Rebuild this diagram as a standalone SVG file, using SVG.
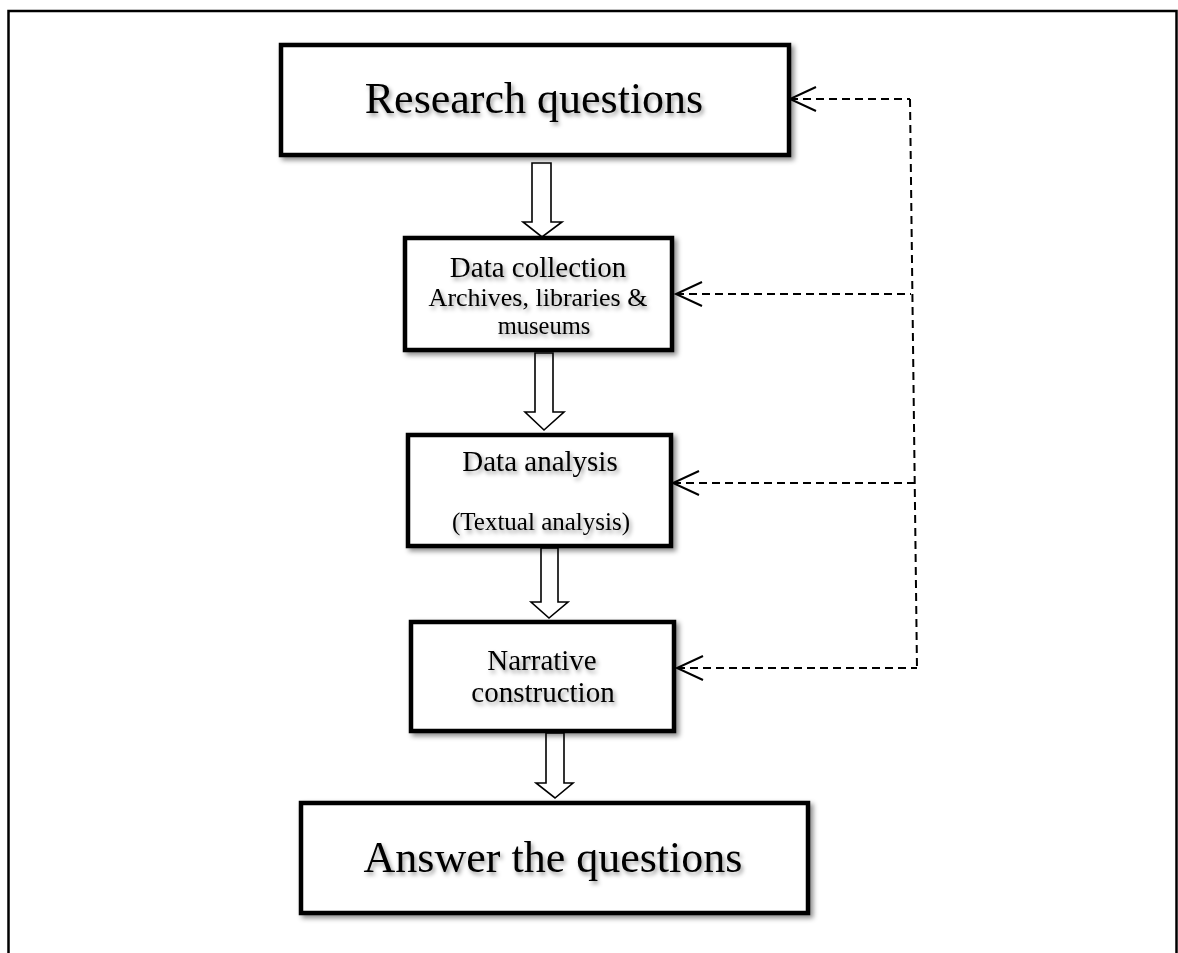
<svg xmlns="http://www.w3.org/2000/svg" width="1178" height="953" viewBox="0 0 1178 953">
<defs>
<style>
.box{fill:#fff;stroke:#000;stroke-width:4.5;filter:url(#sh)}
.t{font-family:"Liberation Serif","Times New Roman",serif;fill:#000;text-anchor:middle;filter:url(#tsh)}
.big{font-size:44px}
.sm{font-size:29px}
.blk{fill:#fff;stroke:#000;stroke-width:1.6;stroke-linejoin:miter}
.dash{fill:none;stroke:#000;stroke-width:2;stroke-dasharray:8 5}
</style>
<filter id="sh" x="-10%" y="-10%" width="125%" height="130%">
<feDropShadow dx="3" dy="3" stdDeviation="2.5" flood-color="#000" flood-opacity="0.45"/>
</filter>
<filter id="tsh" x="-10%" y="-20%" width="125%" height="150%">
<feDropShadow dx="2" dy="3" stdDeviation="2" flood-color="#000" flood-opacity="0.4"/>
</filter>
<marker id="open" markerUnits="userSpaceOnUse" viewBox="-2 -14 30 28" refX="0" refY="0" markerWidth="30" markerHeight="28" orient="auto" overflow="visible">
<path d="M26,-12 L0,0 L26,12" fill="none" stroke="#000" stroke-width="2" stroke-dasharray="none"/>
</marker>
</defs>
<rect width="1178" height="953" fill="#fff"/>
<path d="M8.5,953 V11 H1176.5 V953" fill="none" stroke="#000" stroke-width="2.5"/>

<g id="connectors">
<polygon class="blk" points="532,163 551,163 551,222 562,222 542,237 523,222 532,222"/>
<polygon class="blk" points="535,353 553,353 553,412 564,412 544,430 525,412 535,412"/>
<polygon class="blk" points="541,548 558,548 558,602 568,602 549,618 531,602 541,602"/>
<polygon class="blk" points="546,733 564,733 564,783 573,783 555,798 536,783 546,783"/>
<path class="dash" d="M910,99 L917,669"/>
<path class="dash" d="M790,99 H910" marker-start="url(#open)"/>
<path class="dash" d="M676,294 H911" marker-start="url(#open)"/>
<path class="dash" d="M673,483 H914" marker-start="url(#open)"/>
<path class="dash" d="M677,668 H917" marker-start="url(#open)"/>
</g>

<g id="research">
<rect class="box" x="281" y="45" width="508" height="110"/>
<text class="t big" x="534" y="113">Research questions</text>
</g>
<g id="collection">
<rect class="box" x="405" y="238" width="267" height="112"/>
<text class="t sm" x="538" y="277">Data collection</text>
<text class="t sm" x="538" y="306" style="font-size:26px">Archives, libraries &amp;</text>
<text class="t sm" x="544" y="334" style="font-size:24.5px">museums</text>
</g>
<g id="analysis">
<rect class="box" x="408" y="435" width="263" height="111"/>
<text class="t sm" x="540" y="471">Data analysis</text>
<text class="t sm" x="541" y="530" style="font-size:25px">(Textual analysis)</text>
</g>
<g id="narrative">
<rect class="box" x="411" y="622" width="263" height="109"/>
<text class="t sm" x="542" y="670">Narrative</text>
<text class="t sm" x="543" y="702">construction</text>
</g>
<g id="answer">
<rect class="box" x="301" y="803" width="507" height="110"/>
<text class="t big" x="553" y="872">Answer the questions</text>
</g>
</svg>
